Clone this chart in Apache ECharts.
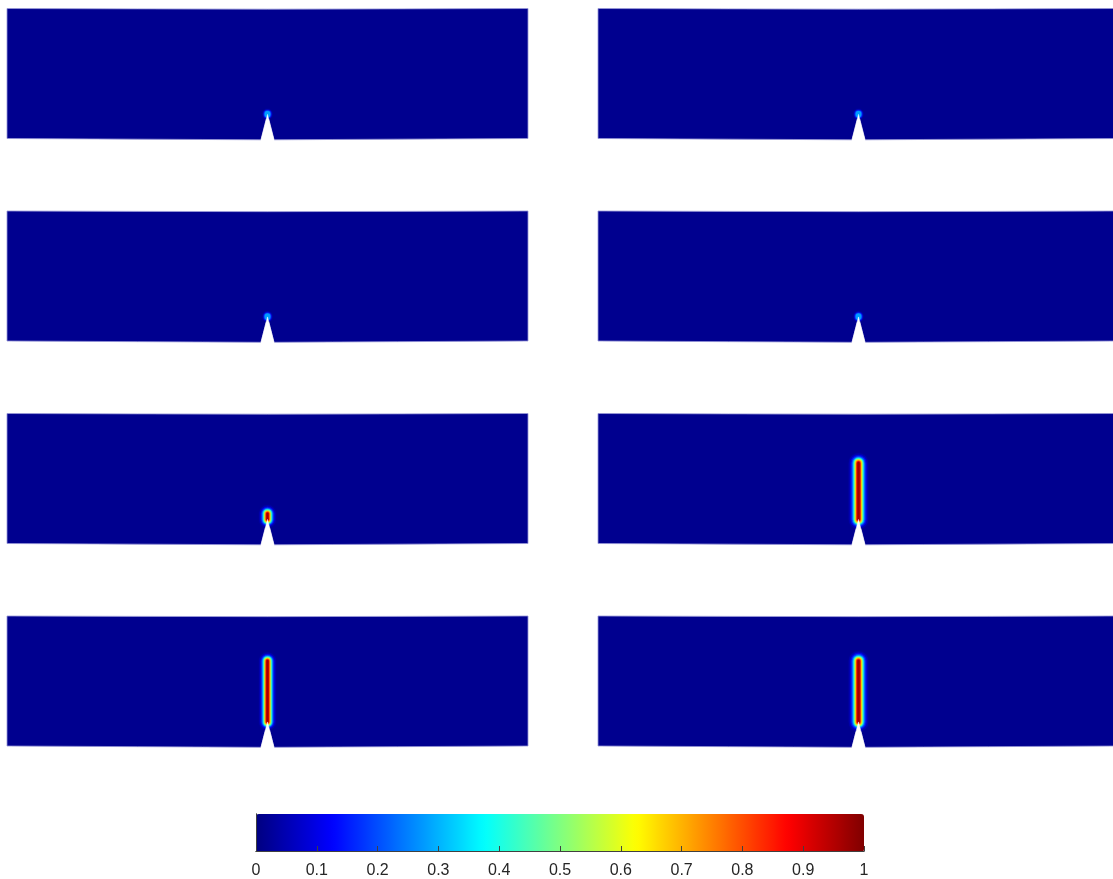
<!DOCTYPE html>
<html><head><meta charset="utf-8">
<script src="https://cdn.jsdelivr.net/npm/echarts@6/dist/echarts.min.js"></script>
<style>html,body{margin:0;padding:0;background:#fff}#c{width:1113px;height:879px}</style>
</head><body><div id="c"></div>
<script>
// ---- beam outline (mm, slightly deflected), notch at centre ----
const beamX = [0, 100, 150, 195, 200, 205, 250, 300, 400, 400, 300, 200, 100, 0];
const beamY = [0, -0.5, -0.75, -1.0, 18.5, -1.0, -0.75, -0.5, 0, 100, 99.7, 99.5, 99.7, 100];
const notchX = [195, 200, 205];
const notchY = [-1.0, 18.5, -1.0];
const crackX = 200;
const beamValue = 0.015;

// ---- per panel (row-major: row1 L, row1 R, row2 L, ...) ----
const crackTop   = [19, 19, 19, 19, 23, 62, 65.5, 65.5];
const crackScale = [0.45, 0.45, 0.45, 0.45, 0.8, 0.93, 0.8, 0.93];
const crackPeak  = [0.36, 0.36, 0.36, 0.36, 1.0, 1.0, 1.0, 1.0];

// ---- damage bands across the crack (value, half width in mm) ----
const bandValue     = [0.04, 0.1, 0.18, 0.28, 0.4, 0.52, 0.64, 0.76, 0.88, 0.97];
const bandHalfWidth = [8.0, 6.6, 5.6, 4.7, 3.9, 3.2, 2.6, 2.0, 1.4, 0.8];

// ---- colour bar ticks ----
const cbarMin = 0, cbarMax = 1, cbarStep = 0.1;
const jet = ['#000080','#0000ff','#0080ff','#00ffff','#80ff80','#ffff00','#ff8000','#ff0000','#800000'];

const chart = echarts.init(document.getElementById('c'));
const grids = [], xAxes = [], yAxes = [], series = [], mapped = [];
const colLeft = [7, 598];
const colWidth = [521, 515];          // right column is cut by the page edge
const colXMax = [400, 515 / 521 * 400];

function beamRender(params, api) {
  const pts = beamX.map((x, i) => api.coord([x, beamY[i]]));
  return {type: 'polygon', shape: {points: pts},
    style: {fill: api.visual('color'), stroke: 'rgba(150,150,215,0.8)', lineWidth: 1}};
}
function crackRender(params, api) {
  const hw = api.value(1), top = api.value(2);
  const p1 = api.coord([crackX - hw, top + hw]);
  const p2 = api.coord([crackX + hw, notchY[1] - hw]);
  const w = p2[0] - p1[0], h = p2[1] - p1[1];
  const col = api.visual('color');
  return {type: 'rect', shape: {x: p1[0], y: p1[1], width: w, height: h, r: w / 2},
    style: {fill: col, shadowColor: col, shadowBlur: 1.5}};
}
function notchRender(params, api) {
  const pts = notchX.map((x, i) => api.coord([x, notchY[i]]));
  pts.push(api.coord([notchX[2], -4]), api.coord([notchX[0], -4]));
  return {type: 'polygon', shape: {points: pts},
    style: {fill: '#ffffff', stroke: '#ffffff', lineWidth: 0.5}};
}

for (let p = 0; p < 8; p++) {
  const r = Math.floor(p / 2), c = p % 2;
  grids.push({left: colLeft[c], top: 3.3 + 202.5 * r, width: colWidth[c], height: 140.4});
  xAxes.push({gridIndex: p, type: 'value', min: 0, max: colXMax[c], show: false});
  yAxes.push({gridIndex: p, type: 'value', min: -4, max: 104, show: false});
  mapped.push(series.length);
  series.push({type: 'custom', xAxisIndex: p, yAxisIndex: p, silent: true, clip: false,
    data: [[beamValue]], renderItem: beamRender});
  const bands = [];
  bandValue.forEach((v, i) => {
    if (v <= crackPeak[p]) bands.push([v, bandHalfWidth[i] * crackScale[p], crackTop[p]]);
  });
  mapped.push(series.length);
  series.push({type: 'custom', xAxisIndex: p, yAxisIndex: p, silent: true, clip: false,
    data: bands, renderItem: crackRender});
  series.push({type: 'custom', xAxisIndex: p, yAxisIndex: p, silent: true, clip: false, z: 5,
    data: [[0]], renderItem: notchRender});
}

// colour bar frame + ticks
grids.push({left: 256, top: 814, width: 608, height: 38});
const axLine = {show: true, lineStyle: {color: '#404040', width: 1}};
xAxes.push({gridIndex: 8, type: 'value', position: 'bottom', min: cbarMin, max: cbarMax, interval: cbarStep, z: 10,
  axisLine: axLine, axisTick: {show: true, inside: true, length: 5, lineStyle: {color: '#404040'}},
  splitLine: {show: false},
  axisLabel: {margin: 12, fontSize: 16, color: '#262626', fontFamily: 'Liberation Sans, Arial, sans-serif'}});
xAxes.push({gridIndex: 8, type: 'value', position: 'top', min: cbarMin, max: cbarMax, z: 10,
  axisLine: axLine, axisTick: {show: false}, axisLabel: {show: false}, splitLine: {show: false}});
yAxes.push({gridIndex: 8, type: 'value', position: 'left', min: 0, max: 1, z: 10,
  axisLine: axLine, axisTick: {show: false}, axisLabel: {show: false}, splitLine: {show: false}});
yAxes.push({gridIndex: 8, type: 'value', position: 'right', min: 0, max: 1, z: 10,
  axisLine: axLine, axisTick: {show: false}, axisLabel: {show: false}, splitLine: {show: false}});

chart.setOption({
  animation: false,
  backgroundColor: '#ffffff',
  grid: grids, xAxis: xAxes, yAxis: yAxes,
  visualMap: {type: 'continuous', min: cbarMin, max: cbarMax, dimension: 0, seriesIndex: mapped,
    orient: 'horizontal', left: 256, top: 814, itemWidth: 38, itemHeight: 608, padding: 0,
    calculable: false, inRange: {color: jet}},
  series: series
});
</script></body></html>
